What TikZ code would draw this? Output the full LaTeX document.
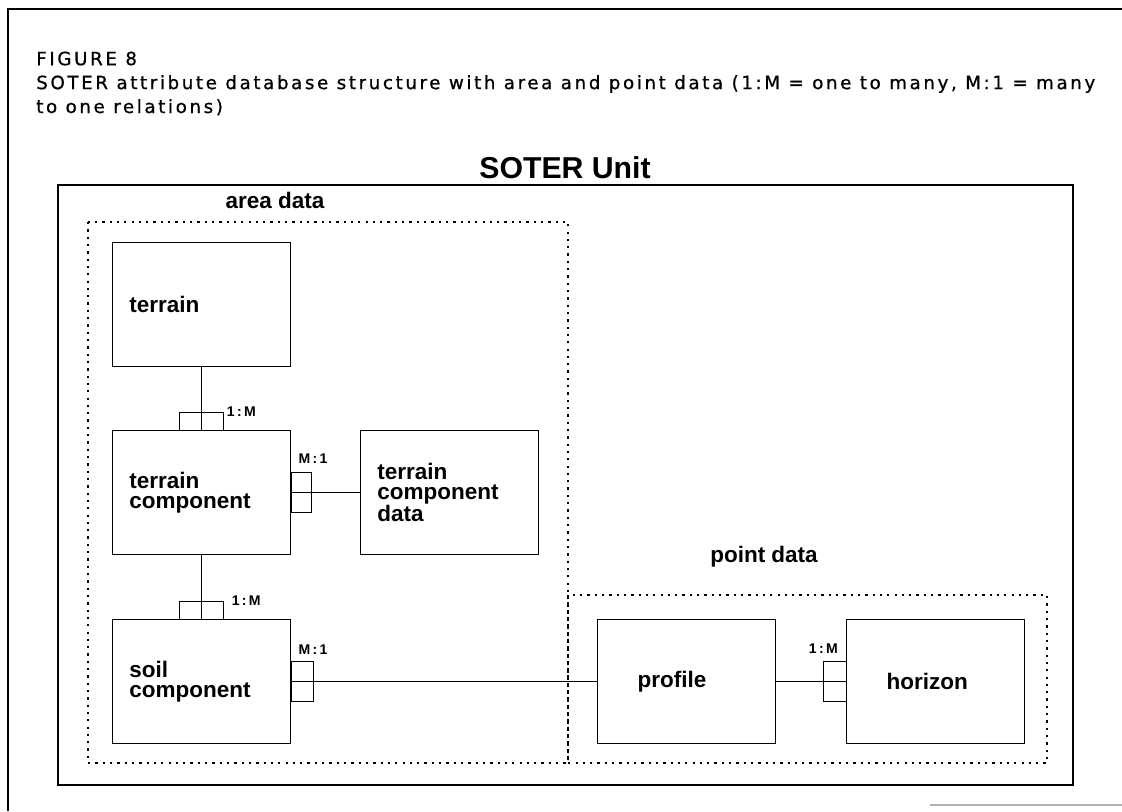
\documentclass[tikz,border=0pt]{standalone}
\usepackage{fontspec}
\setmainfont{Liberation Sans}
\newfontfamily\captionfont[LetterSpace=14.2, FakeBold=0.8]{DejaVu Sans}
\usetikzlibrary{positioning}

\begin{document}
\begin{tikzpicture}[
    x=0.025cm, y=-0.025cm,
    entity/.style={draw, line width=0.7pt, minimum width=4.45cm, minimum height=3.1cm, inner xsep=0.42cm, text width=3.61cm, align=left, font=\fontsize{16}{14.5}\selectfont\bfseries},
    wide/.style={inner xsep=1.0cm, text width=2.45cm},
    ratio/.style={font=\fontsize{10}{11}\selectfont\bfseries, inner sep=0pt},
    group/.style={draw, line width=0.8pt, dash pattern=on 1.6pt off 3.6pt},
    grouplabel/.style={font=\fontsize{16}{18}\selectfont\bfseries, inner sep=0pt},
    link/.style={line width=0.6pt}
  ]
    \useasboundingbox (0,0) rectangle (1122,811);
    % page frame
    \draw[line width=1.4pt] (8,811) -- (8,9) -- (1122,9);
    \draw[gray!60, line width=0.8pt] (930,805) -- (1122,805);
    \node[anchor=base west, align=left, inner sep=0pt, font=\captionfont\fontsize{13}{17}\selectfont] (caption) at (36,113)
      {FIGURE 8\\SOTER attribute database structure with area and point data (1:M = one to many, M:1 = many\\to one relations)};
    % unit and groups
    \draw[line width=0.8pt] (58,185) rectangle (1073,785);
    \node[anchor=base, inner sep=0pt, font=\fontsize{21.5}{23}\selectfont\bfseries] (unit) at (565,178) {SOTER Unit};
    \draw[group] (88,222) rectangle (568,763);
    \draw[group] (568,595) rectangle (1047,763);
    \node[grouplabel] (arealabel) at (275,200) {area data};
    \node[grouplabel] (pointlabel) at (764,557) {point data};
    % entities
    \node[entity] (terrain) at (201.5,304.5) {terrain};
    \node[entity, below=1.575cm of terrain] (tcomp) {terrain\\component};
    \node[entity, right=1.725cm of tcomp] (tcdata) {terrain\\component\\data};
    \node[entity, below=1.6cm of tcomp] (soil) {soil\\component};
    \node[entity, wide, right=7.65cm of soil] (profile) {profile};
    \node[entity, wide, right=1.75cm of profile] (horizon) {horizon};
    \foreach \a/\b in {tcomp/tcdata,soil/profile,profile/horizon} {\draw[link] (\a) -- (\b);}
    \foreach \a/\b in {terrain/tcomp,tcomp/soil} {\draw[link] (\a.south) -- (\a.south |- \b.north);}
    % relation marks
    \draw[link] ([xshift=-0.55cm]tcomp.north) rectangle ++(1.1cm,0.45cm);
    \draw[link] ([xshift=-0.55cm]soil.north) rectangle ++(1.1cm,0.45cm);
    \draw[link] ([yshift=-0.5cm]tcomp.east) rectangle ++(0.5cm,1cm);
    \draw[link] ([yshift=-0.5cm]soil.east) rectangle ++(0.55cm,1cm);
    \draw[link] ([yshift=-0.5cm]horizon.west) rectangle ++(-0.57cm,1cm);
    \node[ratio, anchor=west] (r1) at ([xshift=0.63cm,yshift=0.45cm]tcomp.north) {1\,:\,M};
    \node[ratio, anchor=west] (r2) at ([xshift=0.75cm,yshift=0.45cm]soil.north) {1\,:\,M};
    \node[ratio, anchor=south west] (r3) at ([xshift=0.18cm,yshift=0.71cm]tcomp.east) {M\,:\,1};
    \node[ratio, anchor=south west] (r4) at ([xshift=0.18cm,yshift=0.68cm]soil.east) {M\,:\,1};
    \node[ratio, anchor=south east] (r5) at ([xshift=-0.2cm,yshift=0.7cm]horizon.west) {1\,:\,M};
  \end{tikzpicture}
\end{document}
